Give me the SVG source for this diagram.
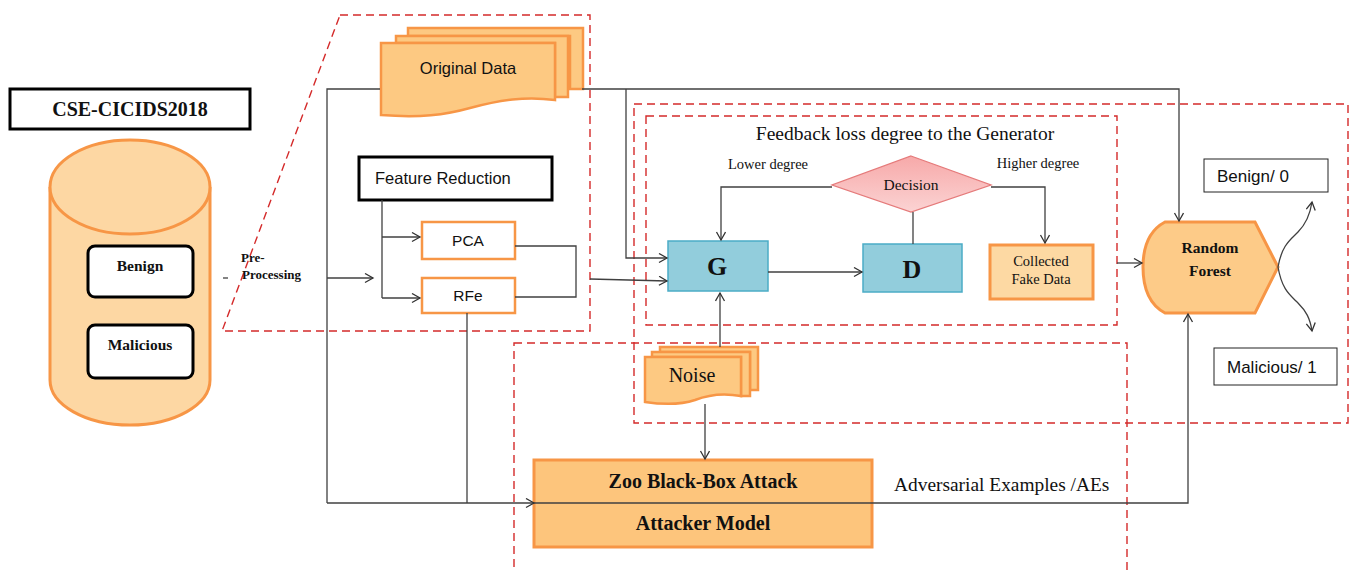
<svg xmlns="http://www.w3.org/2000/svg" width="1352" height="571" viewBox="0 0 1352 571">
<defs>
<marker id="arr" markerUnits="userSpaceOnUse" markerWidth="12" markerHeight="12" refX="9" refY="5" orient="auto">
<path d="M1,0.5 L9,5 L1,9.5" fill="none" stroke="#333" stroke-width="1.3"/>
</marker>
<linearGradient id="pink" x1="0" y1="0" x2="0" y2="1">
<stop offset="0" stop-color="#F7A9A9"/><stop offset="1" stop-color="#FBD3D3"/>
</linearGradient>
<style>
.ln{fill:none;stroke:#404040;stroke-width:1.3}
.red{fill:none;stroke:#D42A2A;stroke-width:1.4;stroke-dasharray:8,5}
.org{fill:#FDC982;stroke:#F79646;stroke-width:2.5}
.blue{fill:#92CDDC;stroke:#4BACC6;stroke-width:1.5}
.sans{font-family:"Liberation Sans",Arial,sans-serif;fill:#111}
.serif{font-family:"Liberation Serif","Times New Roman",serif;fill:#111}
.b{font-weight:bold}
</style>
</defs>
<rect width="1352" height="571" fill="#fff"/>

<g id="regions">
<path class="red" d="M340,15 H590 V331 H222 Z"/>
<rect class="red" x="634" y="104" width="714" height="319"/>
<rect class="red" x="646" y="116" width="471" height="209"/>
<rect class="red" x="514" y="343" width="613" height="240"/>
</g>

<g id="dataset">
<rect x="10" y="89" width="240" height="40" fill="#fff" stroke="#000" stroke-width="3"/>
<text class="serif b" x="130" y="116" font-size="20" text-anchor="middle">CSE-CICIDS2018</text>
<path d="M50,187 V380 A80,45 0 0 0 210,380 V187" fill="#FDD7A3" stroke="#F79646" stroke-width="3"/>
<ellipse cx="130" cy="187" rx="80" ry="47" fill="#FDD7A3" stroke="#F79646" stroke-width="3"/>
<g id="benign-db">
<rect x="88" y="246" width="105" height="51" rx="7" fill="#fff" stroke="#000" stroke-width="3"/>
<text class="serif b" x="140" y="271" font-size="15.5" text-anchor="middle">Benign</text>
</g>
<g id="malicious-db">
<rect x="88" y="325" width="105" height="53" rx="7" fill="#fff" stroke="#000" stroke-width="3"/>
<text class="serif b" x="140" y="350" font-size="15.5" text-anchor="middle">Malicious</text>
</g>
</g>

<g id="preprocessing-label">
<line x1="223" y1="278" x2="228" y2="278" stroke="#333" stroke-width="1.2"/>
<text class="serif b" x="241" y="262" font-size="13">Pre-</text>
<text class="serif b" x="242" y="279" font-size="13">Processing</text>
</g>

<g id="original-data">
<path class="org" d="M408,28 H583 V89 H570 V36 H408 Z"/>
<path class="org" d="M396,36 H568 V97 H555 V43 H396 Z"/>
<path class="org" d="M381,43 H555 V100 C525,96 500,100 470,108 C445,115 420,118 381,115 Z"/>
<text class="sans" x="468" y="74" font-size="16.5" text-anchor="middle">Original Data</text>
</g>

<g id="feature-reduction">
<rect x="359" y="157" width="193" height="43" fill="#fff" stroke="#000" stroke-width="3"/>
<text class="sans" x="375" y="184" font-size="16.5">Feature Reduction</text>
</g>
<g id="pca">
<rect x="422" y="222" width="93" height="37" fill="#fff" stroke="#F79646" stroke-width="2.5"/>
<text class="sans" x="468" y="246" font-size="15.5" text-anchor="middle">PCA</text>
</g>
<g id="rfe">
<rect x="422" y="278" width="93" height="35" fill="#fff" stroke="#F79646" stroke-width="2.5"/>
<text class="sans" x="468" y="301" font-size="15.5" text-anchor="middle">RFe</text>
</g>

<g id="gan-title">
<text class="serif" x="905" y="140" font-size="19.5" text-anchor="middle">Feedback loss degree to the Generator</text>
<text class="serif" x="768" y="169" font-size="14.5" text-anchor="middle">Lower degree</text>
<text class="serif" x="1038" y="168" font-size="14.5" text-anchor="middle">Higher degree</text>
</g>
<g id="decision">
<path d="M911,156 L991,185 L911,212 L832,185 Z" fill="url(#pink)" stroke="#E57A7A" stroke-width="1.3"/>
<text class="serif" x="911" y="190" font-size="15.5" text-anchor="middle">Decision</text>
</g>
<g id="generator">
<rect class="blue" x="668" y="241" width="100" height="50"/>
<text class="serif b" x="717" y="275" font-size="26" text-anchor="middle">G</text>
</g>
<g id="discriminator">
<rect class="blue" x="863" y="244" width="99" height="48"/>
<text class="serif b" x="912" y="278" font-size="26" text-anchor="middle">D</text>
</g>
<g id="collected">
<rect x="990" y="245" width="103" height="54" fill="#FDD9A3" stroke="#F79646" stroke-width="3"/>
<text class="serif" x="1041" y="266" font-size="14.5" text-anchor="middle">Collected</text>
<text class="serif" x="1041" y="284" font-size="14.5" text-anchor="middle">Fake Data</text>
</g>

<g id="noise">
<path class="org" d="M660,347 H758 V390 H750 V352 H660 Z"/>
<path class="org" d="M652,352 H750 V396 H741 V357 H652 Z"/>
<path class="org" d="M645,357 H741 V396 C720,392 705,396 695,400 C680,405 665,405 645,402 Z"/>
<text class="serif" x="692" y="382" font-size="20" text-anchor="middle">Noise</text>
</g>

<g id="zoo">
<rect x="534" y="460" width="338" height="87" fill="#FDC57C" stroke="#F79646" stroke-width="3"/>
<text class="serif b" x="703" y="488" font-size="20" text-anchor="middle">Zoo Black-Box Attack</text>
<text class="serif b" x="703" y="530" font-size="20" text-anchor="middle">Attacker Model</text>
</g>
<text id="aes-label" class="serif" x="894" y="491" font-size="19.4">Adversarial Examples /AEs</text>

<g id="random-forest">
<path d="M1165,222 H1255 L1278,267 L1255,313 H1165 C1150,305 1143,288 1143,267 C1143,246 1150,230 1165,222 Z" fill="#FDCB88" stroke="#F79646" stroke-width="3"/>
<text class="serif b" x="1210" y="253" font-size="15.5" text-anchor="middle">Random</text>
<text class="serif b" x="1210" y="276" font-size="15.5" text-anchor="middle">Forest</text>
</g>
<g id="benign-out">
<rect x="1204" y="159" width="124" height="33" fill="#fff" stroke="#222" stroke-width="1"/>
<text class="sans" x="1217" y="182" font-size="17">Benign/ 0</text>
</g>
<g id="malicious-out">
<rect x="1214" y="348" width="123" height="37" fill="#fff" stroke="#222" stroke-width="1"/>
<text class="sans" x="1227" y="373" font-size="17">Malicious/ 1</text>
</g>

<g id="connectors">
<path class="ln" d="M380,89 H327 V503"/>
<path class="ln" d="M327,503 H534" marker-end="url(#arr)"/>
<path class="ln" d="M534,503 H1188 V314" marker-end="url(#arr)"/>
<path class="ln" d="M467,313 V503"/>
<path class="ln" d="M327,278 H373" marker-end="url(#arr)"/>
<path class="ln" d="M382,200 V298"/>
<path class="ln" d="M382,237 H420" marker-end="url(#arr)"/>
<path class="ln" d="M382,298 H420" marker-end="url(#arr)"/>
<path class="ln" d="M515,246 H576 V297 H515"/>
<path class="ln" d="M590,279 L667,281" marker-end="url(#arr)"/>
<path class="ln" d="M582,89 H1179 V221" marker-end="url(#arr)"/>
<path class="ln" d="M626,89 V258 H667" marker-end="url(#arr)"/>
<path class="ln" d="M832,187 H721 V240" marker-end="url(#arr)"/>
<path class="ln" d="M991,187 H1045 V243" marker-end="url(#arr)"/>
<path class="ln" d="M913,212 V244"/>
<path class="ln" d="M768,272 H862" marker-end="url(#arr)"/>
<path class="ln" d="M720,347 V293" marker-end="url(#arr)"/>
<path class="ln" d="M705,404 V459" marker-end="url(#arr)"/>
<path class="ln" d="M1117,263 H1142" marker-end="url(#arr)"/>
<path class="ln" d="M1278,267 C1282,245 1290,240 1298,232 C1306,224 1310,215 1312,202" marker-end="url(#arr)"/>
<path class="ln" d="M1278,267 C1282,290 1290,295 1298,303 C1306,311 1310,318 1312,331" marker-end="url(#arr)"/>
</g>
</svg>
